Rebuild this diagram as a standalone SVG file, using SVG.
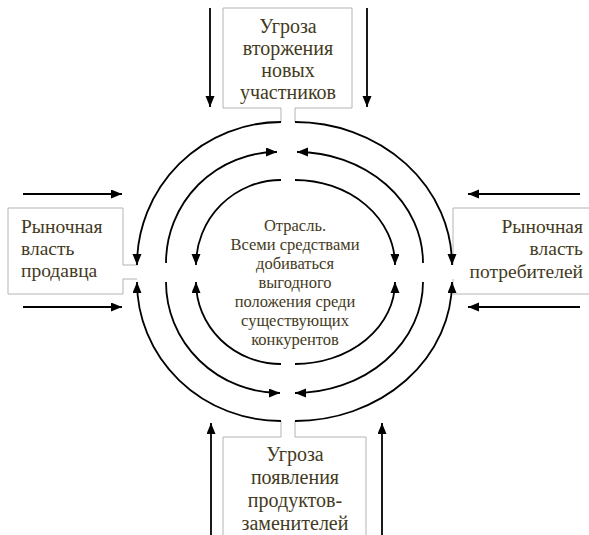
<svg xmlns="http://www.w3.org/2000/svg" width="589" height="535" viewBox="0 0 589 535">
<defs>
<marker id="ah" markerUnits="userSpaceOnUse" markerWidth="12" markerHeight="10" refX="11" refY="4.5" orient="auto">
<path d="M0,0 L11,4.5 L0,9 z" fill="#000"/>
</marker>
</defs>
<style>
.box{fill:none;stroke:#b4b4b4;stroke-width:1}
.t{font-family:"Liberation Serif","Times New Roman",serif;font-size:19.5px;fill:#433a22}
.tb{font-size:20px}
.c{font-family:"Liberation Serif","Times New Roman",serif;font-size:16.5px;fill:#433a22;text-anchor:middle}
.ln{fill:none;stroke:#000;stroke-width:1.8}
.arr{fill:none;stroke:#000;stroke-width:1.8;marker-end:url(#ah)}
</style>
<rect width="589" height="535" fill="#fff"/>
<g id="top">
<path class="box" d="M281,122 V108 H223 V8 H352 V108 H295 V122"/>
<text class="t tb" text-anchor="middle"><tspan x="288" y="33">Угроза</tspan><tspan x="288" y="55">вторжения</tspan><tspan x="288" y="77">новых</tspan><tspan x="288" y="99">участников</tspan></text>
</g>
<g id="left">
<path class="box" d="M137,265 H123 V208 H8 V294 H123 V279 H137"/>
<text class="t"><tspan x="21" y="233">Рыночная</tspan><tspan x="21" y="255">власть</tspan><tspan x="21" y="277">продавца</tspan></text>
</g>
<g id="right">
<path class="box" d="M589,208 H453 V265 M453,279 V294 H589"/>
<text class="t" text-anchor="end"><tspan x="583" y="233">Рыночная</tspan><tspan x="583" y="255">власть</tspan><tspan x="583" y="278">потребителей</tspan></text>
</g>
<g id="bottom">
<path class="box" d="M281,421 V437 H223 V535 M366,535 V437 H295 V421"/>
<text class="t tb" text-anchor="middle"><tspan x="295" y="461">Угроза</tspan><tspan x="295" y="484">появления</tspan><tspan x="295" y="507">продуктов-</tspan><tspan x="295" y="530">заменителей</tspan></text>
</g>
<g id="center">
<text class="c"><tspan x="295" y="231">Отрасль.</tspan><tspan x="295" y="250">Всеми средствами</tspan><tspan x="295" y="269">добиваться</tspan><tspan x="295" y="288">выгодного</tspan><tspan x="295" y="307">положения среди</tspan><tspan x="295" y="326">существующих</tspan><tspan x="295" y="345">конкурентов</tspan></text>
</g>
<g id="connectors">
<path class="arr" d="M281,122 A144,143 0 0 0 137,265"/>
<path class="arr" d="M295,122 A157,143 0 0 1 452,265"/>
<path class="arr" d="M281,421 A144,139 0 0 1 137,282"/>
<path class="arr" d="M295,421 A157,139 0 0 0 452,282"/>
<path class="arr" d="M166,263 A111,111 0 0 1 277,152"/>
<path class="arr" d="M423,263 A126,111 0 0 0 297,152"/>
<path class="arr" d="M166,282 A114,111 0 0 0 280,393"/>
<path class="arr" d="M423,282 A128,111 0 0 1 295,393"/>
<path class="arr" d="M281,180 A85,85 0 0 0 196,265"/>
<path class="arr" d="M295,180 A100,85 0 0 1 395,265"/>
<path class="arr" d="M281,364 A85,82 0 0 1 196,282"/>
<path class="arr" d="M295,364 A100,82 0 0 0 395,282"/>
<path class="arr" d="M23,194 H122"/>
<path class="arr" d="M23,307 H122"/>
<path class="arr" d="M580,194 H468"/>
<path class="arr" d="M580,307 H468"/>
<path class="arr" d="M210,8 V107"/>
<path class="arr" d="M367,8 V107"/>
<path class="arr" d="M211,535 V423"/>
<path class="arr" d="M382,535 V423"/>
</g>
</svg>
